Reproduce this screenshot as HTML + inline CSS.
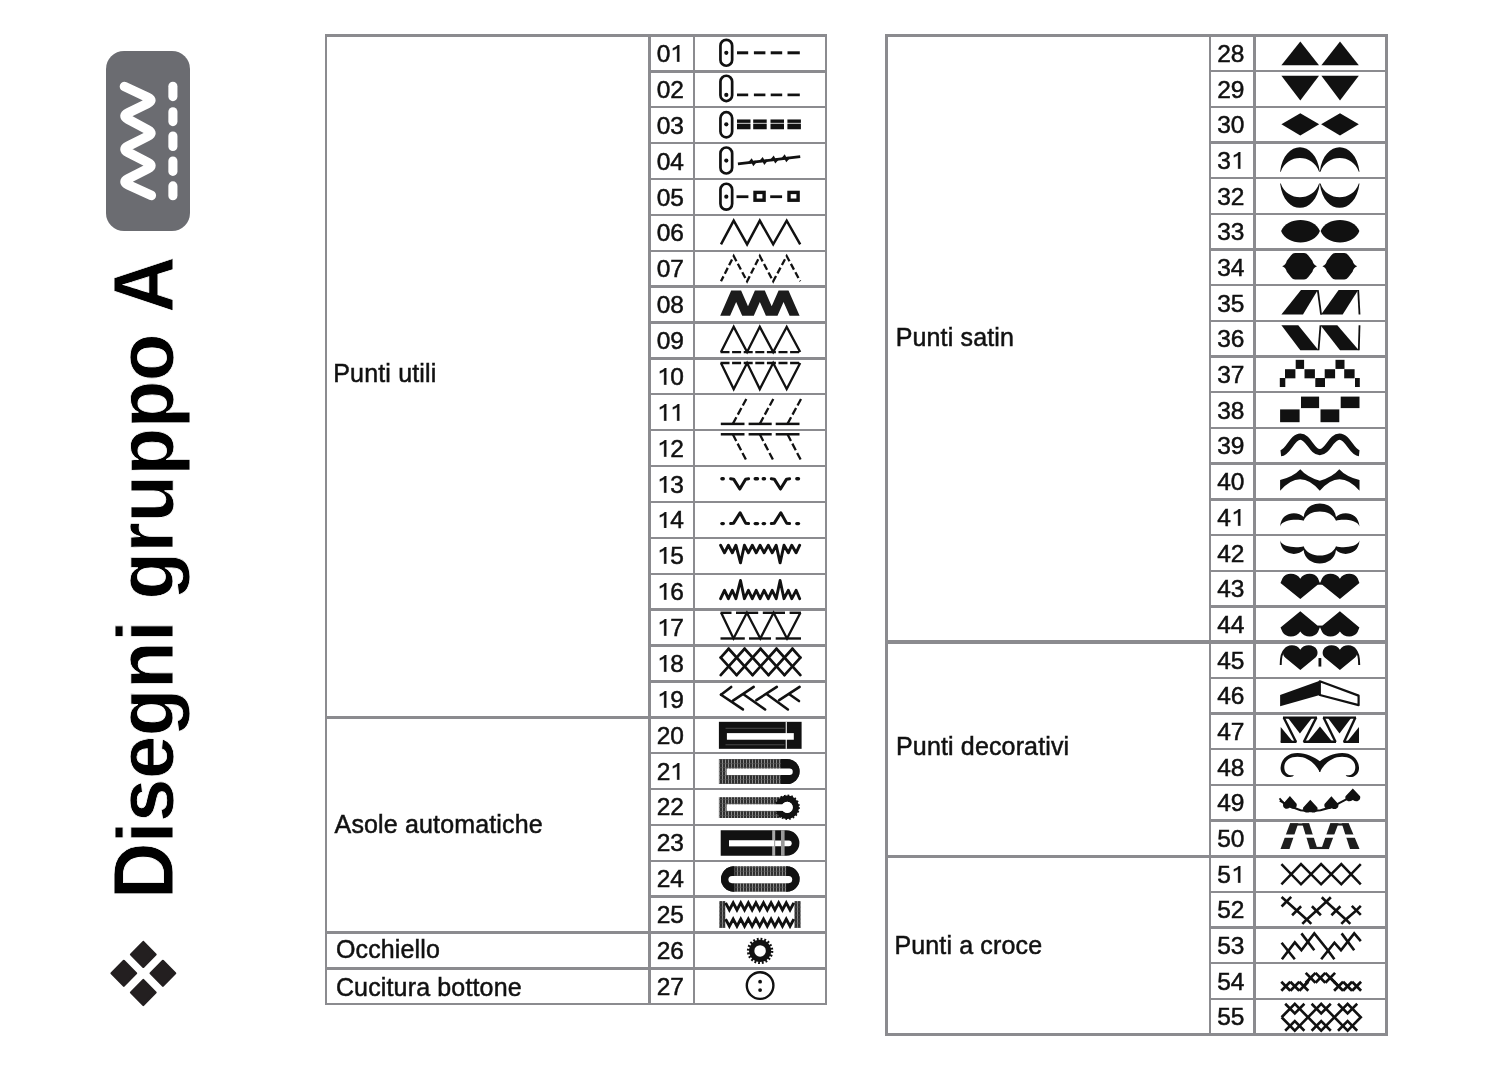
<!DOCTYPE html>
<html><head><meta charset="utf-8"><style>
html,body{margin:0;padding:0;background:#fff;}
body{width:1500px;height:1070px;position:relative;overflow:hidden;font-family:"Liberation Sans",sans-serif;}
.r{position:absolute;}
.one{width:0.5562em;height:0.688em;vertical-align:baseline;fill:#111;stroke:#111;stroke-width:30;}
.t{position:absolute;white-space:nowrap;color:#111;line-height:1;-webkit-text-stroke:0.5px #111;}
#wrap{position:absolute;left:0;top:0;width:1500px;height:1070px;filter:blur(0.45px);}
</style></head><body>
<div id="wrap">
<div style="position:absolute;left:106.4px;top:50.8px;width:84px;height:180.6px;border-radius:18px;background:#6b6c71;"></div><div class="r" style="left:324.80px;top:34.30px;width:2.40px;height:971.16px;background:#8b8b8f"></div><div class="r" style="left:648.30px;top:34.30px;width:2.40px;height:971.16px;background:#8b8b8f"></div><div class="r" style="left:692.80px;top:34.30px;width:2.40px;height:971.16px;background:#8b8b8f"></div><div class="r" style="left:824.80px;top:34.30px;width:2.40px;height:971.16px;background:#8b8b8f"></div><div class="r" style="left:324.80px;top:34.30px;width:502.40px;height:2.40px;background:#8b8b8f"></div><div class="r" style="left:648.30px;top:70.18px;width:178.90px;height:2.40px;background:#8b8b8f"></div><div class="r" style="left:648.30px;top:106.06px;width:178.90px;height:2.40px;background:#8b8b8f"></div><div class="r" style="left:648.30px;top:141.94px;width:178.90px;height:2.40px;background:#8b8b8f"></div><div class="r" style="left:648.30px;top:177.82px;width:178.90px;height:2.40px;background:#8b8b8f"></div><div class="r" style="left:648.30px;top:213.70px;width:178.90px;height:2.40px;background:#8b8b8f"></div><div class="r" style="left:648.30px;top:249.58px;width:178.90px;height:2.40px;background:#8b8b8f"></div><div class="r" style="left:648.30px;top:285.46px;width:178.90px;height:2.40px;background:#8b8b8f"></div><div class="r" style="left:648.30px;top:321.34px;width:178.90px;height:2.40px;background:#8b8b8f"></div><div class="r" style="left:648.30px;top:357.22px;width:178.90px;height:2.40px;background:#8b8b8f"></div><div class="r" style="left:648.30px;top:393.10px;width:178.90px;height:2.40px;background:#8b8b8f"></div><div class="r" style="left:648.30px;top:428.98px;width:178.90px;height:2.40px;background:#8b8b8f"></div><div class="r" style="left:648.30px;top:464.86px;width:178.90px;height:2.40px;background:#8b8b8f"></div><div class="r" style="left:648.30px;top:500.74px;width:178.90px;height:2.40px;background:#8b8b8f"></div><div class="r" style="left:648.30px;top:536.62px;width:178.90px;height:2.40px;background:#8b8b8f"></div><div class="r" style="left:648.30px;top:572.50px;width:178.90px;height:2.40px;background:#8b8b8f"></div><div class="r" style="left:648.30px;top:608.38px;width:178.90px;height:2.40px;background:#8b8b8f"></div><div class="r" style="left:648.30px;top:644.26px;width:178.90px;height:2.40px;background:#8b8b8f"></div><div class="r" style="left:648.30px;top:680.14px;width:178.90px;height:2.40px;background:#8b8b8f"></div><div class="r" style="left:324.80px;top:715.62px;width:502.40px;height:3.20px;background:#8b8b8f"></div><div class="r" style="left:648.30px;top:751.90px;width:178.90px;height:2.40px;background:#8b8b8f"></div><div class="r" style="left:648.30px;top:787.78px;width:178.90px;height:2.40px;background:#8b8b8f"></div><div class="r" style="left:648.30px;top:823.66px;width:178.90px;height:2.40px;background:#8b8b8f"></div><div class="r" style="left:648.30px;top:859.54px;width:178.90px;height:2.40px;background:#8b8b8f"></div><div class="r" style="left:648.30px;top:895.42px;width:178.90px;height:2.40px;background:#8b8b8f"></div><div class="r" style="left:324.80px;top:930.90px;width:502.40px;height:3.20px;background:#8b8b8f"></div><div class="r" style="left:324.80px;top:966.78px;width:502.40px;height:3.20px;background:#8b8b8f"></div><div class="r" style="left:324.80px;top:1003.06px;width:502.40px;height:2.40px;background:#8b8b8f"></div><div class="t" style="left:333.30px;top:360.70px;font-size:25px;letter-spacing:0.15px;">Punti utili</div><div class="t" style="left:334.60px;top:811.80px;font-size:25px;letter-spacing:0.15px;">Asole automatiche</div><div class="t" style="left:335.90px;top:937.30px;font-size:25px;letter-spacing:0.15px;">Occhiello</div><div class="t" style="left:335.90px;top:974.70px;font-size:25px;letter-spacing:0.15px;">Cucitura bottone</div><div class="t" style="left:656.70px;top:42.00px;font-size:24.5px;">0<svg class="one" viewBox="0 -1409 1139 1409"><path d="M595,0 L775,0 L775,-1409 L655,-1409 C600,-1320 430,-1200 240,-1130 L240,-960 C380,-1010 500,-1080 595,-1160 Z"/></svg></div><div class="t" style="left:656.70px;top:77.88px;font-size:24.5px;">02</div><div class="t" style="left:656.70px;top:113.76px;font-size:24.5px;">03</div><div class="t" style="left:656.70px;top:149.64px;font-size:24.5px;">04</div><div class="t" style="left:656.70px;top:185.52px;font-size:24.5px;">05</div><div class="t" style="left:656.70px;top:221.40px;font-size:24.5px;">06</div><div class="t" style="left:656.70px;top:257.28px;font-size:24.5px;">07</div><div class="t" style="left:656.70px;top:293.16px;font-size:24.5px;">08</div><div class="t" style="left:656.70px;top:329.04px;font-size:24.5px;">09</div><div class="t" style="left:656.70px;top:364.92px;font-size:24.5px;"><svg class="one" viewBox="0 -1409 1139 1409"><path d="M595,0 L775,0 L775,-1409 L655,-1409 C600,-1320 430,-1200 240,-1130 L240,-960 C380,-1010 500,-1080 595,-1160 Z"/></svg>0</div><div class="t" style="left:656.70px;top:400.80px;font-size:24.5px;"><svg class="one" viewBox="0 -1409 1139 1409"><path d="M595,0 L775,0 L775,-1409 L655,-1409 C600,-1320 430,-1200 240,-1130 L240,-960 C380,-1010 500,-1080 595,-1160 Z"/></svg><svg class="one" viewBox="0 -1409 1139 1409"><path d="M595,0 L775,0 L775,-1409 L655,-1409 C600,-1320 430,-1200 240,-1130 L240,-960 C380,-1010 500,-1080 595,-1160 Z"/></svg></div><div class="t" style="left:656.70px;top:436.68px;font-size:24.5px;"><svg class="one" viewBox="0 -1409 1139 1409"><path d="M595,0 L775,0 L775,-1409 L655,-1409 C600,-1320 430,-1200 240,-1130 L240,-960 C380,-1010 500,-1080 595,-1160 Z"/></svg>2</div><div class="t" style="left:656.70px;top:472.56px;font-size:24.5px;"><svg class="one" viewBox="0 -1409 1139 1409"><path d="M595,0 L775,0 L775,-1409 L655,-1409 C600,-1320 430,-1200 240,-1130 L240,-960 C380,-1010 500,-1080 595,-1160 Z"/></svg>3</div><div class="t" style="left:656.70px;top:508.44px;font-size:24.5px;"><svg class="one" viewBox="0 -1409 1139 1409"><path d="M595,0 L775,0 L775,-1409 L655,-1409 C600,-1320 430,-1200 240,-1130 L240,-960 C380,-1010 500,-1080 595,-1160 Z"/></svg>4</div><div class="t" style="left:656.70px;top:544.32px;font-size:24.5px;"><svg class="one" viewBox="0 -1409 1139 1409"><path d="M595,0 L775,0 L775,-1409 L655,-1409 C600,-1320 430,-1200 240,-1130 L240,-960 C380,-1010 500,-1080 595,-1160 Z"/></svg>5</div><div class="t" style="left:656.70px;top:580.20px;font-size:24.5px;"><svg class="one" viewBox="0 -1409 1139 1409"><path d="M595,0 L775,0 L775,-1409 L655,-1409 C600,-1320 430,-1200 240,-1130 L240,-960 C380,-1010 500,-1080 595,-1160 Z"/></svg>6</div><div class="t" style="left:656.70px;top:616.08px;font-size:24.5px;"><svg class="one" viewBox="0 -1409 1139 1409"><path d="M595,0 L775,0 L775,-1409 L655,-1409 C600,-1320 430,-1200 240,-1130 L240,-960 C380,-1010 500,-1080 595,-1160 Z"/></svg>7</div><div class="t" style="left:656.70px;top:651.96px;font-size:24.5px;"><svg class="one" viewBox="0 -1409 1139 1409"><path d="M595,0 L775,0 L775,-1409 L655,-1409 C600,-1320 430,-1200 240,-1130 L240,-960 C380,-1010 500,-1080 595,-1160 Z"/></svg>8</div><div class="t" style="left:656.70px;top:687.84px;font-size:24.5px;"><svg class="one" viewBox="0 -1409 1139 1409"><path d="M595,0 L775,0 L775,-1409 L655,-1409 C600,-1320 430,-1200 240,-1130 L240,-960 C380,-1010 500,-1080 595,-1160 Z"/></svg>9</div><div class="t" style="left:656.70px;top:723.72px;font-size:24.5px;">20</div><div class="t" style="left:656.70px;top:759.60px;font-size:24.5px;">2<svg class="one" viewBox="0 -1409 1139 1409"><path d="M595,0 L775,0 L775,-1409 L655,-1409 C600,-1320 430,-1200 240,-1130 L240,-960 C380,-1010 500,-1080 595,-1160 Z"/></svg></div><div class="t" style="left:656.70px;top:795.48px;font-size:24.5px;">22</div><div class="t" style="left:656.70px;top:831.36px;font-size:24.5px;">23</div><div class="t" style="left:656.70px;top:867.24px;font-size:24.5px;">24</div><div class="t" style="left:656.70px;top:903.12px;font-size:24.5px;">25</div><div class="t" style="left:656.70px;top:939.00px;font-size:24.5px;">26</div><div class="t" style="left:656.70px;top:974.88px;font-size:24.5px;">27</div><div class="r" style="left:885.30px;top:34.30px;width:2.40px;height:1001.44px;background:#8b8b8f"></div><div class="r" style="left:1208.80px;top:34.30px;width:2.40px;height:1001.44px;background:#8b8b8f"></div><div class="r" style="left:1253.30px;top:34.30px;width:2.40px;height:1001.44px;background:#8b8b8f"></div><div class="r" style="left:1385.30px;top:34.30px;width:2.40px;height:1001.44px;background:#8b8b8f"></div><div class="r" style="left:885.30px;top:34.30px;width:502.40px;height:2.40px;background:#8b8b8f"></div><div class="r" style="left:1208.80px;top:69.98px;width:178.90px;height:2.40px;background:#8b8b8f"></div><div class="r" style="left:1208.80px;top:105.66px;width:178.90px;height:2.40px;background:#8b8b8f"></div><div class="r" style="left:1208.80px;top:141.34px;width:178.90px;height:2.40px;background:#8b8b8f"></div><div class="r" style="left:1208.80px;top:177.02px;width:178.90px;height:2.40px;background:#8b8b8f"></div><div class="r" style="left:1208.80px;top:212.70px;width:178.90px;height:2.40px;background:#8b8b8f"></div><div class="r" style="left:1208.80px;top:248.38px;width:178.90px;height:2.40px;background:#8b8b8f"></div><div class="r" style="left:1208.80px;top:284.06px;width:178.90px;height:2.40px;background:#8b8b8f"></div><div class="r" style="left:1208.80px;top:319.74px;width:178.90px;height:2.40px;background:#8b8b8f"></div><div class="r" style="left:1208.80px;top:355.42px;width:178.90px;height:2.40px;background:#8b8b8f"></div><div class="r" style="left:1208.80px;top:391.10px;width:178.90px;height:2.40px;background:#8b8b8f"></div><div class="r" style="left:1208.80px;top:426.78px;width:178.90px;height:2.40px;background:#8b8b8f"></div><div class="r" style="left:1208.80px;top:462.46px;width:178.90px;height:2.40px;background:#8b8b8f"></div><div class="r" style="left:1208.80px;top:498.14px;width:178.90px;height:2.40px;background:#8b8b8f"></div><div class="r" style="left:1208.80px;top:533.82px;width:178.90px;height:2.40px;background:#8b8b8f"></div><div class="r" style="left:1208.80px;top:569.50px;width:178.90px;height:2.40px;background:#8b8b8f"></div><div class="r" style="left:1208.80px;top:605.18px;width:178.90px;height:2.40px;background:#8b8b8f"></div><div class="r" style="left:885.30px;top:640.46px;width:502.40px;height:3.20px;background:#8b8b8f"></div><div class="r" style="left:1208.80px;top:676.54px;width:178.90px;height:2.40px;background:#8b8b8f"></div><div class="r" style="left:1208.80px;top:712.22px;width:178.90px;height:2.40px;background:#8b8b8f"></div><div class="r" style="left:1208.80px;top:747.90px;width:178.90px;height:2.40px;background:#8b8b8f"></div><div class="r" style="left:1208.80px;top:783.58px;width:178.90px;height:2.40px;background:#8b8b8f"></div><div class="r" style="left:1208.80px;top:819.26px;width:178.90px;height:2.40px;background:#8b8b8f"></div><div class="r" style="left:885.30px;top:854.54px;width:502.40px;height:3.20px;background:#8b8b8f"></div><div class="r" style="left:1208.80px;top:890.62px;width:178.90px;height:2.40px;background:#8b8b8f"></div><div class="r" style="left:1208.80px;top:926.30px;width:178.90px;height:2.40px;background:#8b8b8f"></div><div class="r" style="left:1208.80px;top:961.98px;width:178.90px;height:2.40px;background:#8b8b8f"></div><div class="r" style="left:1208.80px;top:997.66px;width:178.90px;height:2.40px;background:#8b8b8f"></div><div class="r" style="left:885.30px;top:1033.34px;width:502.40px;height:2.40px;background:#8b8b8f"></div><div class="t" style="left:895.70px;top:324.50px;font-size:25px;letter-spacing:0.15px;">Punti satin</div><div class="t" style="left:896.00px;top:733.70px;font-size:25px;letter-spacing:0.15px;">Punti decorativi</div><div class="t" style="left:894.40px;top:933.10px;font-size:25px;letter-spacing:0.15px;">Punti a croce</div><div class="t" style="left:1217.20px;top:42.00px;font-size:24.5px;">28</div><div class="t" style="left:1217.20px;top:77.68px;font-size:24.5px;">29</div><div class="t" style="left:1217.20px;top:113.36px;font-size:24.5px;">30</div><div class="t" style="left:1217.20px;top:149.04px;font-size:24.5px;">3<svg class="one" viewBox="0 -1409 1139 1409"><path d="M595,0 L775,0 L775,-1409 L655,-1409 C600,-1320 430,-1200 240,-1130 L240,-960 C380,-1010 500,-1080 595,-1160 Z"/></svg></div><div class="t" style="left:1217.20px;top:184.72px;font-size:24.5px;">32</div><div class="t" style="left:1217.20px;top:220.40px;font-size:24.5px;">33</div><div class="t" style="left:1217.20px;top:256.08px;font-size:24.5px;">34</div><div class="t" style="left:1217.20px;top:291.76px;font-size:24.5px;">35</div><div class="t" style="left:1217.20px;top:327.44px;font-size:24.5px;">36</div><div class="t" style="left:1217.20px;top:363.12px;font-size:24.5px;">37</div><div class="t" style="left:1217.20px;top:398.80px;font-size:24.5px;">38</div><div class="t" style="left:1217.20px;top:434.48px;font-size:24.5px;">39</div><div class="t" style="left:1217.20px;top:470.16px;font-size:24.5px;">40</div><div class="t" style="left:1217.20px;top:505.84px;font-size:24.5px;">4<svg class="one" viewBox="0 -1409 1139 1409"><path d="M595,0 L775,0 L775,-1409 L655,-1409 C600,-1320 430,-1200 240,-1130 L240,-960 C380,-1010 500,-1080 595,-1160 Z"/></svg></div><div class="t" style="left:1217.20px;top:541.52px;font-size:24.5px;">42</div><div class="t" style="left:1217.20px;top:577.20px;font-size:24.5px;">43</div><div class="t" style="left:1217.20px;top:612.88px;font-size:24.5px;">44</div><div class="t" style="left:1217.20px;top:648.56px;font-size:24.5px;">45</div><div class="t" style="left:1217.20px;top:684.24px;font-size:24.5px;">46</div><div class="t" style="left:1217.20px;top:719.92px;font-size:24.5px;">47</div><div class="t" style="left:1217.20px;top:755.60px;font-size:24.5px;">48</div><div class="t" style="left:1217.20px;top:791.28px;font-size:24.5px;">49</div><div class="t" style="left:1217.20px;top:826.96px;font-size:24.5px;">50</div><div class="t" style="left:1217.20px;top:862.64px;font-size:24.5px;">5<svg class="one" viewBox="0 -1409 1139 1409"><path d="M595,0 L775,0 L775,-1409 L655,-1409 C600,-1320 430,-1200 240,-1130 L240,-960 C380,-1010 500,-1080 595,-1160 Z"/></svg></div><div class="t" style="left:1217.20px;top:898.32px;font-size:24.5px;">52</div><div class="t" style="left:1217.20px;top:934.00px;font-size:24.5px;">53</div><div class="t" style="left:1217.20px;top:969.68px;font-size:24.5px;">54</div><div class="t" style="left:1217.20px;top:1005.36px;font-size:24.5px;">55</div><div class="t" style="left:104.9px;top:898.8px;font-size:78px;font-weight:700;letter-spacing:-0.5px;color:#000;-webkit-text-stroke:0.8px #fff;transform-origin:0 0;transform:rotate(-90deg) scale(1,1.03);"><span style="display:inline-block;transform-origin:50% 66px;transform:scaleY(1.07)">D</span>isegni gruppo <span style="display:inline-block;transform-origin:50% 66px;transform:scaleY(1.07)">A</span></div>
<svg width="1500" height="1070" style="position:absolute;left:0;top:0">
<defs><pattern id="stripe" width="3" height="4" patternUnits="userSpaceOnUse"><rect width="3" height="4" fill="#2e2e2e"/><rect x="2" width="1" height="4" fill="#8a8a8a"/><rect y="3" width="3" height="0.6" fill="#555"/></pattern></defs>
<path d="M124.5,86.5 L147.66,97.33 Q154,100.3 147.70,103.36 L128.20,112.84 Q121.9,115.9 128.06,119.22 L147.84,129.88 Q154,133.2 147.74,136.32 L128.16,146.08 Q121.9,149.2 128.13,152.38 L147.77,162.42 Q154,165.6 147.77,168.78 L128.13,178.82 Q121.9,182 128.27,184.90 L151.3,195.4" fill="none" stroke="#fff" stroke-width="9.6" stroke-linejoin="round" stroke-linecap="round"/><line x1="172.9" y1="86.2" x2="172.9" y2="96.6" stroke="#fff" stroke-width="9.1" stroke-linecap="round"/><line x1="172.9" y1="111.7" x2="172.9" y2="121.6" stroke="#fff" stroke-width="9.1" stroke-linecap="round"/><line x1="172.9" y1="136.0" x2="172.9" y2="146.5" stroke="#fff" stroke-width="9.1" stroke-linecap="round"/><line x1="172.9" y1="161.0" x2="172.9" y2="171.4" stroke="#fff" stroke-width="9.1" stroke-linecap="round"/><line x1="172.9" y1="185.9" x2="172.9" y2="195.7" stroke="#fff" stroke-width="9.1" stroke-linecap="round"/><polygon points="143.3,941.9 155.60000000000002,954.4 143.3,966.9 131.0,954.4" fill="#231f20" stroke="#231f20" stroke-width="2.2" stroke-linejoin="round"/><polygon points="123.8,960.8 136.1,973.3 123.8,985.8 111.5,973.3" fill="#231f20" stroke="#231f20" stroke-width="2.2" stroke-linejoin="round"/><polygon points="162.9,960.8 175.20000000000002,973.3 162.9,985.8 150.6,973.3" fill="#231f20" stroke="#231f20" stroke-width="2.2" stroke-linejoin="round"/><polygon points="143.3,980.0 155.60000000000002,992.5 143.3,1005.0 131.0,992.5" fill="#231f20" stroke="#231f20" stroke-width="2.2" stroke-linejoin="round"/><g transform="translate(693,34.50)"><rect x="27.45" y="5.35" width="11.70" height="25.90" rx="5.85" fill="none" stroke="#111" stroke-width="2.7"/><circle cx="33.3" cy="18.30" r="2.1" fill="#111"/><line x1="44.00" y1="18.30" x2="55.20" y2="18.30" stroke="#111" stroke-width="3.0" /><line x1="60.90" y1="18.30" x2="72.40" y2="18.30" stroke="#111" stroke-width="3.0" /><line x1="77.70" y1="18.30" x2="89.20" y2="18.30" stroke="#111" stroke-width="3.0" /><line x1="94.50" y1="18.30" x2="106.80" y2="18.30" stroke="#111" stroke-width="3.0" /></g><g transform="translate(693,70.38)"><rect x="27.45" y="5.35" width="11.70" height="25.30" rx="5.85" fill="none" stroke="#111" stroke-width="2.7"/><circle cx="33.3" cy="24.50" r="2.1" fill="#111"/><line x1="44.00" y1="24.50" x2="55.20" y2="24.50" stroke="#111" stroke-width="2.7" /><line x1="60.90" y1="24.50" x2="72.40" y2="24.50" stroke="#111" stroke-width="2.7" /><line x1="77.70" y1="24.50" x2="89.20" y2="24.50" stroke="#111" stroke-width="2.7" /><line x1="94.50" y1="24.50" x2="106.80" y2="24.50" stroke="#111" stroke-width="2.7" /></g><g transform="translate(693,106.26)"><rect x="27.45" y="5.95" width="11.70" height="25.10" rx="5.85" fill="none" stroke="#111" stroke-width="2.7"/><circle cx="33.3" cy="18.10" r="2.1" fill="#111"/><rect x="44.00" y="13.20" width="13.50" height="3.40" fill="#111" /><rect x="44.00" y="17.40" width="13.50" height="5.60" fill="#111" /><rect x="60.20" y="13.20" width="13.50" height="3.40" fill="#111" /><rect x="60.20" y="17.40" width="13.50" height="5.60" fill="#111" /><rect x="77.50" y="13.20" width="13.50" height="3.40" fill="#111" /><rect x="77.50" y="17.40" width="13.50" height="5.60" fill="#111" /><rect x="94.40" y="13.20" width="13.50" height="3.40" fill="#111" /><rect x="94.40" y="17.40" width="13.50" height="5.60" fill="#111" /></g><g transform="translate(693,142.14)"><rect x="27.45" y="5.35" width="11.70" height="26.00" rx="5.85" fill="none" stroke="#111" stroke-width="2.7"/><circle cx="33.3" cy="18.40" r="2.1" fill="#111"/><line x1="44.90" y1="21.80" x2="107.20" y2="14.40" stroke="#111" stroke-width="2.8" /><polyline points="56.10,20.97 58.50,18.17 60.50,21.97 62.90,19.17" fill="none" stroke="#111" stroke-width="2.4" /><polyline points="67.10,19.66 69.50,16.86 71.50,20.66 73.90,17.86" fill="none" stroke="#111" stroke-width="2.4" /><polyline points="78.10,18.35 80.50,15.55 82.50,19.35 84.90,16.55" fill="none" stroke="#111" stroke-width="2.4" /><polyline points="89.10,17.05 91.50,14.25 93.50,18.05 95.90,15.25" fill="none" stroke="#111" stroke-width="2.4" /></g><g transform="translate(693,178.02)"><rect x="27.45" y="5.75" width="11.70" height="25.90" rx="5.85" fill="none" stroke="#111" stroke-width="2.7"/><circle cx="33.3" cy="18.70" r="2.1" fill="#111"/><line x1="43.50" y1="18.70" x2="55.40" y2="18.70" stroke="#111" stroke-width="2.8" /><line x1="77.20" y1="18.70" x2="89.10" y2="18.70" stroke="#111" stroke-width="2.8" /><rect x="62.00" y="14.4" width="9.1" height="7.8" fill="none" stroke="#111" stroke-width="3.4"/><rect x="96.00" y="14.4" width="9.1" height="7.8" fill="none" stroke="#111" stroke-width="3.4"/></g><g transform="translate(693,213.90)"><polyline points="28.00,30.40 40.70,6.80 54.10,30.40 66.80,6.80 80.20,30.40 93.70,6.80 107.20,30.40" fill="none" stroke="#111" stroke-width="2.5" stroke-linejoin="miter"/></g><g transform="translate(693,249.78)"><polyline points="28.00,31.50 40.70,6.30 54.10,31.50 66.80,6.30 80.20,31.50 93.70,6.30 107.20,31.50" fill="none" stroke="#111" stroke-width="2.3" stroke-dasharray="6.5 3" stroke-dashoffset="1"/></g><g transform="translate(693,285.66)"><polygon points="27.20,30.10 38.20,4.90 48.10,4.90 55.00,20.56 61.90,4.90 71.80,4.90 78.70,20.56 85.60,4.90 95.50,4.90 106.60,30.10 96.60,30.10 90.55,16.36 84.50,30.10 72.90,30.10 66.85,16.36 60.80,30.10 49.20,30.10 43.15,16.36 37.10,30.10" fill="#1c1c1c" /></g><g transform="translate(693,321.54)"><polyline points="28.00,30.50 40.70,5.30 54.10,30.50 66.80,5.30 80.20,30.50 93.70,5.30 107.20,30.50" fill="none" stroke="#111" stroke-width="2.3" /><line x1="27.50" y1="30.50" x2="107.70" y2="30.50" stroke="#111" stroke-width="2.3" stroke-dasharray="9 2.6"/></g><g transform="translate(693,357.42)"><polyline points="28.00,5.60 40.70,31.70 54.10,5.60 66.80,31.70 80.20,5.60 93.70,31.70 107.20,5.60" fill="none" stroke="#111" stroke-width="2.3" /><line x1="27.50" y1="5.60" x2="107.70" y2="5.60" stroke="#111" stroke-width="2.3" stroke-dasharray="9 2.6"/></g><g transform="translate(693,393.30)"><line x1="27.80" y1="30.60" x2="51.50" y2="30.60" stroke="#111" stroke-width="2.5" /><line x1="55.60" y1="30.60" x2="78.70" y2="30.60" stroke="#111" stroke-width="2.5" /><line x1="82.70" y1="30.60" x2="106.50" y2="30.60" stroke="#111" stroke-width="2.5" /><line x1="39.80" y1="30.60" x2="53.30" y2="5.70" stroke="#111" stroke-width="2.3" stroke-dasharray="7.5 3"/><line x1="66.80" y1="30.60" x2="80.30" y2="5.70" stroke="#111" stroke-width="2.3" stroke-dasharray="7.5 3"/><line x1="94.50" y1="30.60" x2="108.00" y2="5.70" stroke="#111" stroke-width="2.3" stroke-dasharray="7.5 3"/></g><g transform="translate(693,429.18)"><line x1="27.80" y1="5.10" x2="51.50" y2="5.10" stroke="#111" stroke-width="2.5" /><line x1="55.60" y1="5.10" x2="78.70" y2="5.10" stroke="#111" stroke-width="2.5" /><line x1="82.70" y1="5.10" x2="106.50" y2="5.10" stroke="#111" stroke-width="2.5" /><line x1="39.80" y1="5.10" x2="53.30" y2="31.20" stroke="#111" stroke-width="2.3" stroke-dasharray="7.5 3"/><line x1="66.80" y1="5.10" x2="80.30" y2="31.20" stroke="#111" stroke-width="2.3" stroke-dasharray="7.5 3"/><line x1="94.50" y1="5.10" x2="108.00" y2="31.20" stroke="#111" stroke-width="2.3" stroke-dasharray="7.5 3"/></g><g transform="translate(693,465.06)"><line x1="28.90" y1="13.70" x2="30.30" y2="13.70" stroke="#111" stroke-width="3.3" stroke-linecap="round"/><line x1="62.20" y1="13.70" x2="64.50" y2="13.70" stroke="#111" stroke-width="3.3" stroke-linecap="round"/><line x1="70.20" y1="13.70" x2="71.50" y2="13.70" stroke="#111" stroke-width="3.3" stroke-linecap="round"/><line x1="103.80" y1="13.70" x2="105.50" y2="13.70" stroke="#111" stroke-width="3.3" stroke-linecap="round"/><polyline points="37.60,13.70 40.60,14.10 46.80,24.00 52.60,14.10 55.60,13.70" fill="none" stroke="#111" stroke-width="3.0" stroke-linecap="round" stroke-linejoin="round"/><polyline points="78.30,13.70 81.30,14.10 87.50,24.00 93.60,14.10 96.60,13.70" fill="none" stroke="#111" stroke-width="3.0" stroke-linecap="round" stroke-linejoin="round"/></g><g transform="translate(693,500.94)"><line x1="28.90" y1="22.60" x2="30.30" y2="22.60" stroke="#111" stroke-width="3.3" stroke-linecap="round"/><line x1="62.20" y1="22.60" x2="64.50" y2="22.60" stroke="#111" stroke-width="3.3" stroke-linecap="round"/><line x1="70.20" y1="22.60" x2="71.50" y2="22.60" stroke="#111" stroke-width="3.3" stroke-linecap="round"/><line x1="103.80" y1="22.60" x2="105.50" y2="22.60" stroke="#111" stroke-width="3.3" stroke-linecap="round"/><polyline points="37.60,22.60 40.60,22.20 47.10,11.80 52.60,22.20 55.60,22.60" fill="none" stroke="#111" stroke-width="3.0" stroke-linecap="round" stroke-linejoin="round"/><polyline points="78.30,22.60 81.30,22.20 87.80,11.80 93.60,22.20 96.60,22.60" fill="none" stroke="#111" stroke-width="3.0" stroke-linecap="round" stroke-linejoin="round"/></g><g transform="translate(693,536.82)"><polyline points="27.60,8.40 31.50,16.00 35.40,8.40 39.30,16.00 42.90,8.40 47.50,26.00 51.40,8.40 55.40,16.00 59.30,8.40 63.20,16.00 67.10,8.40 71.10,16.00 75.30,8.40 79.20,16.00 83.20,8.40 87.10,26.00 91.00,8.40 95.30,16.00 98.80,8.40 103.10,16.00 106.70,8.40" fill="none" stroke="#111" stroke-width="2.9" stroke-linejoin="round" stroke-linecap="round"/></g><g transform="translate(693,572.70)"><polyline points="27.60,26.00 31.50,17.60 35.40,26.00 39.30,17.60 42.90,26.00 47.50,7.80 51.40,26.00 55.40,17.60 59.30,26.00 63.20,17.60 67.10,26.00 71.10,17.60 75.30,26.00 79.20,17.60 83.20,26.00 87.10,7.80 91.00,26.00 95.30,17.60 98.80,26.00 103.10,17.60 106.70,26.00" fill="none" stroke="#111" stroke-width="2.9" stroke-linejoin="round" stroke-linecap="round"/></g><g transform="translate(693,608.58)"><polyline points="28.20,4.20 40.50,29.90 53.90,4.20 67.30,29.90 80.60,4.20 94.00,29.90 107.40,4.20" fill="none" stroke="#111" stroke-width="2.3" /><line x1="27.50" y1="4.20" x2="38.50" y2="4.20" stroke="#111" stroke-width="2.4" /><line x1="43.00" y1="4.20" x2="65.20" y2="4.20" stroke="#111" stroke-width="2.4" /><line x1="69.80" y1="4.20" x2="92.00" y2="4.20" stroke="#111" stroke-width="2.4" /><line x1="96.60" y1="4.20" x2="108.00" y2="4.20" stroke="#111" stroke-width="2.4" /><line x1="27.50" y1="29.90" x2="51.80" y2="29.90" stroke="#111" stroke-width="2.4" /><line x1="56.00" y1="29.90" x2="78.00" y2="29.90" stroke="#111" stroke-width="2.4" /><line x1="82.70" y1="29.90" x2="108.00" y2="29.90" stroke="#111" stroke-width="2.4" /></g><g transform="translate(693,644.46)"><line x1="27.70" y1="13.10" x2="35.67" y2="4.30" stroke="#111" stroke-width="2.7" stroke-linecap="round"/><line x1="27.70" y1="13.10" x2="43.64" y2="30.60" stroke="#111" stroke-width="2.7" stroke-linecap="round"/><line x1="35.67" y1="4.30" x2="59.58" y2="30.60" stroke="#111" stroke-width="2.7" stroke-linecap="round"/><line x1="51.61" y1="4.30" x2="75.52" y2="30.60" stroke="#111" stroke-width="2.7" stroke-linecap="round"/><line x1="67.55" y1="4.30" x2="91.46" y2="30.60" stroke="#111" stroke-width="2.7" stroke-linecap="round"/><line x1="83.49" y1="4.30" x2="107.40" y2="30.60" stroke="#111" stroke-width="2.7" stroke-linecap="round"/><line x1="99.43" y1="4.30" x2="107.40" y2="13.10" stroke="#111" stroke-width="2.7" stroke-linecap="round"/><line x1="27.70" y1="30.60" x2="51.61" y2="4.30" stroke="#111" stroke-width="2.7" stroke-linecap="round"/><line x1="43.64" y1="30.60" x2="67.55" y2="4.30" stroke="#111" stroke-width="2.7" stroke-linecap="round"/><line x1="59.58" y1="30.60" x2="83.49" y2="4.30" stroke="#111" stroke-width="2.7" stroke-linecap="round"/><line x1="75.52" y1="30.60" x2="99.43" y2="4.30" stroke="#111" stroke-width="2.7" stroke-linecap="round"/><line x1="91.46" y1="30.60" x2="107.40" y2="13.10" stroke="#111" stroke-width="2.7" stroke-linecap="round"/></g><g transform="translate(693,680.34)"><line x1="28.00" y1="14.40" x2="38.20" y2="6.60" stroke="#111" stroke-width="2.6" stroke-linecap="round"/><line x1="40.00" y1="20.30" x2="60.70" y2="6.60" stroke="#111" stroke-width="2.6" stroke-linecap="round"/><line x1="63.40" y1="19.80" x2="83.80" y2="6.60" stroke="#111" stroke-width="2.6" stroke-linecap="round"/><line x1="86.20" y1="19.80" x2="106.60" y2="6.60" stroke="#111" stroke-width="2.6" stroke-linecap="round"/><line x1="28.00" y1="14.40" x2="49.90" y2="29.10" stroke="#111" stroke-width="2.6" stroke-linecap="round"/><line x1="50.80" y1="14.10" x2="72.10" y2="29.10" stroke="#111" stroke-width="2.6" stroke-linecap="round"/><line x1="74.20" y1="14.10" x2="94.90" y2="29.10" stroke="#111" stroke-width="2.6" stroke-linecap="round"/><line x1="96.70" y1="14.10" x2="106.00" y2="20.70" stroke="#111" stroke-width="2.6" stroke-linecap="round"/></g><g transform="translate(693,716.22)"><rect x="25.90" y="5.60" width="82.70" height="27.00" fill="#111" /><rect x="33.90" y="16.90" width="66.90" height="6.60" fill="#fff" /><rect x="92.70" y="5.60" width="1.10" height="27.00" fill="#fff" /><rect x="32.50" y="11.60" width="59.00" height="0.80" fill="#555" /><rect x="32.50" y="28.20" width="59.00" height="0.80" fill="#555" /></g><g transform="translate(693,752.10)"><path d="M25.9,6.8 H94 A12.6,12.6 0 0 1 94,32 H25.9 Z" fill="url(#stripe)" /><path d="M88,6.8 H94 A12.6,12.6 0 0 1 94,32 H88 Z" fill="#111" /><path d="M33.6,16.4 H96.5 A3.25,3.25 0 0 1 96.5,22.9 H33.6 Z" fill="#fff" /></g><g transform="translate(693,787.98)"><rect x="25.90" y="9.20" width="62.00" height="20.80" fill="url(#stripe)" /><circle cx="94.2" cy="19.3" r="8.6" fill="none" stroke="#111" stroke-width="6.2"/><circle cx="94.2" cy="19.3" r="11.6" fill="none" stroke="#111" stroke-width="2.2" stroke-dasharray="1.6 2.05"/><rect x="33.60" y="16.30" width="58.00" height="6.60" fill="#fff" /><circle cx="94.2" cy="19.4" r="5.6" fill="#fff"/></g><g transform="translate(693,823.86)"><path d="M27.7,6.3 H93.55 A12.85,12.85 0 0 1 93.55,32 H27.7 Z" fill="#111" /><path d="M36,16.6 H95.85 A2.85,2.85 0 0 1 95.85,22.3 H36 Z" fill="#fff" /><rect x="79.20" y="6.30" width="3.00" height="25.70" fill="#aaa" /><rect x="88.00" y="6.30" width="3.60" height="25.70" fill="#999" /><rect x="36.00" y="16.60" width="45.00" height="5.70" fill="#fff" /></g><g transform="translate(693,859.74)"><path d="M40.85,6.4 H93.75 A12.85,12.85 0 0 1 93.75,32.1 H40.85 A12.85,12.85 0 0 1 40.85,6.4 Z" fill="url(#stripe)" /><path d="M40.85,6.4 H41.5 V32.1 H40.85 A12.85,12.85 0 0 1 40.85,6.4 Z" fill="#111" /><path d="M93.2,6.4 H93.75 A12.85,12.85 0 0 1 93.75,32.1 H93.2 Z" fill="#111" /><path d="M39,16.2 H95.6 A3.6,3.6 0 0 1 95.6,23.4 H39 A3.6,3.6 0 0 1 39,16.2 Z" fill="#fff" /></g><g transform="translate(693,895.62)"><rect x="26.00" y="5.50" width="6.40" height="26.80" fill="url(#stripe)" /><rect x="101.20" y="5.50" width="6.70" height="26.80" fill="url(#stripe)" /><polyline points="32.60,7.30 36.39,14.30 40.18,7.30 43.97,14.30 47.76,7.30 51.55,14.30 55.34,7.30 59.13,14.30 62.92,7.30 66.71,14.30 70.50,7.30 74.29,14.30 78.08,7.30 81.87,14.30 85.66,7.30 89.45,14.30 93.24,7.30 97.03,14.30 100.82,7.30" fill="none" stroke="#111" stroke-width="2.9" /><polyline points="32.60,23.50 36.39,30.60 40.18,23.50 43.97,30.60 47.76,23.50 51.55,30.60 55.34,23.50 59.13,30.60 62.92,23.50 66.71,30.60 70.50,23.50 74.29,30.60 78.08,23.50 81.87,30.60 85.66,23.50 89.45,30.60 93.24,23.50 97.03,30.60 100.82,23.50" fill="none" stroke="#111" stroke-width="2.9" /></g><g transform="translate(693,931.50)"><circle cx="67.1" cy="19.4" r="8.4" fill="none" stroke="#111" stroke-width="5.3"/><circle cx="67.1" cy="19.4" r="11.6" fill="none" stroke="#111" stroke-width="3.2" stroke-dasharray="1.8 1.85"/></g><g transform="translate(693,967.38)"><circle cx="67.1" cy="18.2" r="13.3" fill="none" stroke="#111" stroke-width="2.4"/><circle cx="67.1" cy="14.3" r="1.9" fill="#111"/><circle cx="67.1" cy="22.7" r="1.9" fill="#111"/></g><g transform="translate(1253.5,34.50)"><polygon points="27.90,30.80 46.80,6.90 65.50,30.80" fill="#111" /><polygon points="67.90,30.80 86.50,6.90 105.30,30.80" fill="#111" /></g><g transform="translate(1253.5,70.18)"><polygon points="27.90,5.50 46.80,30.40 65.50,5.50" fill="#111" /><polygon points="67.90,5.50 86.50,30.40 105.30,5.50" fill="#111" /></g><g transform="translate(1253.5,105.86)"><polygon points="27.90,18.30 46.80,7.50 65.70,18.30 46.80,29.70" fill="#111" /><polygon points="67.60,18.30 86.50,7.50 105.30,18.30 86.50,29.70" fill="#111" /></g><g transform="translate(1253.5,141.54)"><path d="M26.6,30.2 C30.6,-2.6 62.3,-2.6 66.3,30.2 L65.6,30.2 C59.5,11.8 33.4,11.8 27.3,30.2 Z" fill="#111" /><path d="M66.30000000000001,30.2 C70.30000000000001,-2.6 102.0,-2.6 106.0,30.2 L105.3,30.2 C99.2,11.8 73.1,11.8 67.0,30.2 Z" fill="#111" /></g><g transform="translate(1253.5,177.22)"><path d="M26.6,6.2 C30.6,38.8 62.3,38.8 66.3,6.2 L65.6,6.2 C59.5,24.6 33.4,24.6 27.3,6.2 Z" fill="#111" /><path d="M66.30000000000001,6.2 C70.30000000000001,38.8 102.0,38.8 106.0,6.2 L105.3,6.2 C99.2,24.6 73.1,24.6 67.0,6.2 Z" fill="#111" /></g><g transform="translate(1253.5,212.90)"><path d="M27.6,18.2 C33.5,3.4 60.5,3.4 66.4,18.2 C60.5,33.4 33.5,33.4 27.6,18.2 Z" fill="#111" /><path d="M67.1,18.2 C73.0,3.4 100.0,3.4 105.9,18.2 C100.0,33.4 73.0,33.4 67.1,18.2 Z" fill="#111" /></g><g transform="translate(1253.5,248.58)"><path d="M28.700000000000003,17.7 C31.6,16.7 32.6,14.7 33.3,12.2 L37.6,6.699999999999999 Q39.300000000000004,4.399999999999999 41.6,4.399999999999999 L50.6,4.399999999999999 Q52.9,4.399999999999999 54.6,6.699999999999999 L58.900000000000006,12.2 C59.6,14.7 60.6,16.7 63.5,17.7 C60.6,18.7 59.6,20.7 58.900000000000006,23.2 L54.6,28.7 Q52.9,31.0 50.6,31.0 L41.6,31.0 Q39.300000000000004,31.0 37.6,28.7 L33.3,23.2 C32.6,20.7 31.6,18.7 28.700000000000003,17.7 Z" fill="#111" /><path d="M68.9,17.7 C71.8,16.7 72.8,14.7 73.5,12.2 L77.8,6.699999999999999 Q79.5,4.399999999999999 81.8,4.399999999999999 L90.8,4.399999999999999 Q93.1,4.399999999999999 94.8,6.699999999999999 L99.1,12.2 C99.8,14.7 100.8,16.7 103.69999999999999,17.7 C100.8,18.7 99.8,20.7 99.1,23.2 L94.8,28.7 Q93.1,31.0 90.8,31.0 L81.8,31.0 Q79.5,31.0 77.8,28.7 L73.5,23.2 C72.8,20.7 71.8,18.7 68.9,17.7 Z" fill="#111" /></g><g transform="translate(1253.5,284.26)"><polygon points="27.90,30.30 49.50,30.30 64.30,5.80 47.50,5.80" fill="#111" /><line x1="64.30" y1="5.80" x2="67.60" y2="30.30" stroke="#111" stroke-width="1.8" /><polygon points="67.60,30.30 89.20,30.30 104.70,5.80 85.10,5.80" fill="#111" /><line x1="104.70" y1="5.80" x2="106.00" y2="30.30" stroke="#111" stroke-width="1.8" /></g><g transform="translate(1253.5,319.94)"><polygon points="27.90,5.40 44.80,5.40 65.00,30.30 46.80,30.30" fill="#111" /><line x1="65.00" y1="30.30" x2="67.00" y2="5.40" stroke="#111" stroke-width="1.8" /><polygon points="67.00,5.40 83.80,5.40 105.30,30.30 86.50,30.30" fill="#111" /><line x1="105.30" y1="30.30" x2="106.00" y2="5.40" stroke="#111" stroke-width="1.8" /></g><g transform="translate(1253.5,355.62)"><rect x="26.30" y="22.40" width="5.50" height="9.00" fill="#111" /><rect x="31.50" y="13.60" width="10.40" height="9.10" fill="#111" /><rect x="42.20" y="4.20" width="8.40" height="9.10" fill="#111" /><rect x="51.00" y="13.60" width="10.40" height="9.10" fill="#111" /><rect x="61.80" y="22.40" width="9.70" height="9.00" fill="#111" /><rect x="71.20" y="13.60" width="10.40" height="9.10" fill="#111" /><rect x="82.00" y="4.20" width="9.00" height="9.10" fill="#111" /><rect x="90.70" y="13.60" width="10.40" height="9.10" fill="#111" /><rect x="101.50" y="22.40" width="4.80" height="9.00" fill="#111" /></g><g transform="translate(1253.5,391.30)"><rect x="26.60" y="18.10" width="19.50" height="12.80" fill="#111" /><rect x="47.50" y="5.30" width="18.10" height="11.50" fill="#111" /><rect x="67.00" y="18.10" width="18.80" height="12.80" fill="#111" /><rect x="87.20" y="5.30" width="18.80" height="11.50" fill="#111" /></g><g transform="translate(1253.5,426.98)"><path d="M27.3,26.3 C35,25.5 38.5,9.6 46.8,9.6 C55.1,9.6 58.3,25.2 66.3,25.2 C74.3,25.2 77.5,9.6 86,9.6 C94.5,9.6 98,25.5 105.7,26.3" fill="none" stroke="#111" stroke-width="6.2"/></g><g transform="translate(1253.5,462.66)"><path d="M26.6,17.4 Q40,14 46.8,6.6 Q53,14 66.3,18.2 Q79.5,14 85.8,6.6 Q92.5,14 106,17.4 L106,28.2 Q86,5 66.3,28.2 Q46.8,5 26.6,28.2 Z" fill="#111" /></g><g transform="translate(1253.5,498.34)"><path d="M26.6,28.1 C27.6,12.5 45,12.5 50.1,18.7 C52,0.7 80.6,0.7 82.5,18.7 C87.6,12.5 105,12.5 106,28.1 C104,21 88,20.5 82.5,22.5 C78,10 54.6,10 50.1,22.5 C44.6,20.5 28.6,21 26.6,28.1 Z" fill="#111" /></g><g transform="translate(1253.5,534.02)"><g transform="translate(0,34.7) scale(1,-1)"><path d="M26.6,28.1 C27.6,12.5 45,12.5 50.1,18.7 C52,0.7 80.6,0.7 82.5,18.7 C87.6,12.5 105,12.5 106,28.1 C104,21 88,20.5 82.5,22.5 C78,10 54.6,10 50.1,22.5 C44.6,20.5 28.6,21 26.6,28.1 Z" fill="#111" /></g></g><g transform="translate(1253.5,569.70)"><path d="M46.8,9 C50,3 61,2 64.5,8.5 L66.3,13.2 L46.8,29.4 L27,13.2 L29,8.5 C32.5,2 43.5,3 46.8,9 Z" fill="#111" /><path d="M86.4,9 C89.6,3 100.6,2 104.1,8.5 L105.9,13.2 L86.4,29.4 L66.6,13.2 L68.6,8.5 C72.1,2 83.1,3 86.4,9 Z" fill="#111" /><line x1="64.00" y1="14.00" x2="69.00" y2="14.00" stroke="#111" stroke-width="2" /></g><g transform="translate(1253.5,605.38)"><g transform="translate(0,35.2) scale(1,-1)"><path d="M46.8,9 C50,3 61,2 64.5,8.5 L66.3,13.2 L46.8,29.4 L27,13.2 L29,8.5 C32.5,2 43.5,3 46.8,9 Z" fill="#111" /><path d="M86.4,9 C89.6,3 100.6,2 104.1,8.5 L105.9,13.2 L86.4,29.4 L66.6,13.2 L68.6,8.5 C72.1,2 83.1,3 86.4,9 Z" fill="#111" /><line x1="64.00" y1="14.00" x2="69.00" y2="14.00" stroke="#111" stroke-width="2" /></g></g><g transform="translate(1253.5,641.06)"><path d="M46.8,8.6 C50,3 60.5,2.6 63.5,9 C65,13 63,15.5 62,16.5 L46.8,29 L31.6,16.5 C30.6,15.5 28.6,13 30.1,9 C33.1,2.6 43.6,3 46.8,8.6 Z" fill="#111" /><path d="M86.4,8.6 C89.6,3 100.1,2.6 103.1,9 C104.6,13 102.6,15.5 101.6,16.5 L86.4,29 L71.2,16.5 C70.2,15.5 68.2,13 69.7,9 C72.7,2.6 83.2,3 86.4,8.6 Z" fill="#111" /><path d="M27.2,24 C27.2,16 28.5,11 31.5,8.5" fill="none" stroke="#111" stroke-width="2"/><path d="M105.7,24 C105.7,16 104.5,11 101.5,8.5" fill="none" stroke="#111" stroke-width="2"/><rect x="65.00" y="17.00" width="2.80" height="8.50" fill="#111" /></g><g transform="translate(1253.5,676.74)"><polygon points="26.60,18.20 66.30,4.10 66.30,18.20 26.60,29.60" fill="#111" /><polygon points="66.3,4.6 105.1,18.9 105.1,28.4 66.3,18.2" fill="none" stroke="#111" stroke-width="2.2" stroke-linejoin="round"/></g><g transform="translate(1253.5,712.42)"><polyline points="30.20,5.00 42.50,29.60" fill="none" stroke="#111" stroke-width="2.4" /><polyline points="62.90,5.00 50.30,29.60" fill="none" stroke="#111" stroke-width="2.4" /><polyline points="70.10,5.00 82.10,29.60" fill="none" stroke="#111" stroke-width="2.4" /><polyline points="101.90,5.00 90.50,29.60" fill="none" stroke="#111" stroke-width="2.4" /><line x1="29.50" y1="5.20" x2="63.50" y2="5.20" stroke="#111" stroke-width="2.4" /><line x1="69.50" y1="5.20" x2="102.50" y2="5.20" stroke="#111" stroke-width="2.4" /><polygon points="34.50,5.50 58.50,5.50 46.40,21.20" fill="#111" /><polygon points="74.40,5.50 97.60,5.50 86.00,21.20" fill="#111" /><polygon points="27.20,14.60 27.20,29.80 39.80,29.80" fill="#111" /><polygon points="66.50,14.00 53.50,29.80 79.20,29.80" fill="#111" /><polygon points="105.50,14.60 105.50,29.80 93.20,29.80" fill="#111" /><line x1="27.20" y1="29.40" x2="43.00" y2="29.40" stroke="#111" stroke-width="2.4" /><line x1="50.00" y1="29.40" x2="82.50" y2="29.40" stroke="#111" stroke-width="2.4" /><line x1="90.00" y1="29.40" x2="105.50" y2="29.40" stroke="#111" stroke-width="2.4" /></g><g transform="translate(1253.5,748.10)"><path d="M40.2,27.6 C33.5,31.8 26,26 27.2,18.6 C28.3,10 35,5.0 44,5.0 C53,5.0 60,9 66.3,13.1 L66.9,13.1 L66.9,23.8 L66.3,23.8 C61,14 53,8.6 44,8.6 C37,8.6 31,12 30.8,18.6 C30.6,24.6 34.5,27.8 40.2,27.2 Z" fill="#111" /><g transform="translate(132.6,0) scale(-1,1)"><path d="M40.2,27.6 C33.5,31.8 26,26 27.2,18.6 C28.3,10 35,5.0 44,5.0 C53,5.0 60,9 66.3,13.1 L66.9,13.1 L66.9,23.8 L66.3,23.8 C61,14 53,8.6 44,8.6 C37,8.6 31,12 30.8,18.6 C30.6,24.6 34.5,27.8 40.2,27.2 Z" fill="#111" /></g></g><g transform="translate(1253.5,783.78)"><polyline points="26.30,16.80 36.40,22.50 47.00,26.50 56.80,27.50 67.00,26.50 77.90,23.50 88.00,18.00 98.60,12.50" fill="none" stroke="#111" stroke-width="2.0" /><path d="M36.4,12.2 L43.1,20.009999999999998 C44.1,23.56 40.75,26.9 36.4,23.843999999999998 C32.05,26.9 28.7,23.56 29.7,20.009999999999998 Z" fill="#111" /><path d="M56.8,16.0 L63.9,23.810000000000002 C64.9,27.36 61.349999999999994,30.7 56.8,27.644 C52.25,30.7 48.699999999999996,27.36 49.699999999999996,23.810000000000002 Z" fill="#111" /><path d="M77.9,12.5 L84.80000000000001,20.310000000000002 C85.80000000000001,23.86 82.35000000000001,27.2 77.9,24.144 C73.45,27.2 70.0,23.86 71.0,20.310000000000002 Z" fill="#111" /><path d="M99.3,4.6 L106.6,12.41 C107.6,15.959999999999999 103.95,19.299999999999997 99.3,16.244 C94.64999999999999,19.299999999999997 91.0,15.959999999999999 92.0,12.41 Z" fill="#111" /><line x1="26.00" y1="14.50" x2="31.00" y2="20.00" stroke="#111" stroke-width="1.8" /></g><g transform="translate(1253.5,819.46)"><polygon points="27.00,29.60 36.00,29.60 44.80,3.90 36.60,3.90" fill="#1e1e1e" /><polygon points="48.60,3.90 55.60,3.90 64.00,29.60 56.40,29.60" fill="#1e1e1e" /><polygon points="67.80,29.60 75.40,29.60 85.00,3.90 76.80,3.90" fill="#1e1e1e" /><polygon points="88.20,3.90 95.20,3.90 106.00,29.60 96.50,29.60" fill="#1e1e1e" /><rect x="36.60" y="3.90" width="19.00" height="2.20" fill="#1e1e1e" /><rect x="56.40" y="27.40" width="19.00" height="2.20" fill="#1e1e1e" /><rect x="76.80" y="3.90" width="18.40" height="2.20" fill="#1e1e1e" /><rect x="26.00" y="15.00" width="82.00" height="3.30" fill="#fff" /></g><g transform="translate(1253.5,855.14)"><polyline points="27.90,9.00 47.50,29.20 67.60,9.00 87.80,29.20 107.30,9.00" fill="none" stroke="#111" stroke-width="2.5" /><polyline points="27.90,29.20 47.50,9.00 67.60,29.20 87.80,9.00 107.30,29.20" fill="none" stroke="#111" stroke-width="2.5" /></g><g transform="translate(1253.5,890.82)"><polyline points="28.10,6.10 53.30,28.60 72.80,10.90 92.30,28.60 102.80,19.60" fill="none" stroke="#111" stroke-width="2.6" /><line x1="28.10" y1="15.70" x2="37.70" y2="6.10" stroke="#111" stroke-width="2.6" /><line x1="38.60" y1="24.40" x2="47.60" y2="15.40" stroke="#111" stroke-width="2.6" /><line x1="53.30" y1="28.60" x2="57.80" y2="33.10" stroke="#111" stroke-width="2.6" /><line x1="53.30" y1="28.60" x2="48.80" y2="33.10" stroke="#111" stroke-width="2.6" /><line x1="58.40" y1="15.40" x2="67.40" y2="24.40" stroke="#111" stroke-width="2.6" /><line x1="72.80" y1="10.90" x2="68.30" y2="6.40" stroke="#111" stroke-width="2.6" /><line x1="72.80" y1="10.90" x2="77.30" y2="6.40" stroke="#111" stroke-width="2.6" /><line x1="77.90" y1="24.40" x2="86.90" y2="15.40" stroke="#111" stroke-width="2.6" /><line x1="92.30" y1="28.60" x2="87.80" y2="33.10" stroke="#111" stroke-width="2.6" /><line x1="92.30" y1="28.60" x2="96.80" y2="33.10" stroke="#111" stroke-width="2.6" /><line x1="102.80" y1="19.60" x2="107.30" y2="15.10" stroke="#111" stroke-width="2.6" /><line x1="98.30" y1="15.10" x2="107.30" y2="24.10" stroke="#111" stroke-width="2.6" /></g><g transform="translate(1253.5,926.50)"><line x1="28.10" y1="16.20" x2="41.30" y2="32.70" stroke="#111" stroke-width="2.6" /><polyline points="28.40,32.70 41.30,15.90 47.90,23.70 60.80,6.90 74.30,23.70 80.90,32.70" fill="none" stroke="#111" stroke-width="2.6" /><line x1="47.90" y1="6.90" x2="60.80" y2="23.70" stroke="#111" stroke-width="2.6" /><polyline points="67.70,32.70 80.90,16.20 87.50,23.70 100.70,6.90 107.30,14.70" fill="none" stroke="#111" stroke-width="2.6" /><line x1="88.10" y1="6.90" x2="100.70" y2="23.70" stroke="#111" stroke-width="2.6" /></g><g transform="translate(1253.5,962.18)"><line x1="27.80" y1="19.50" x2="36.80" y2="28.50" stroke="#111" stroke-width="2.7" /><line x1="27.80" y1="28.50" x2="36.80" y2="19.50" stroke="#111" stroke-width="2.7" /><line x1="36.80" y1="19.50" x2="45.80" y2="28.50" stroke="#111" stroke-width="2.7" /><line x1="36.80" y1="28.50" x2="45.80" y2="19.50" stroke="#111" stroke-width="2.7" /><line x1="45.80" y1="19.50" x2="54.80" y2="28.50" stroke="#111" stroke-width="2.7" /><line x1="45.80" y1="28.50" x2="54.80" y2="19.50" stroke="#111" stroke-width="2.7" /><line x1="50.30" y1="24.00" x2="57.10" y2="15.60" stroke="#111" stroke-width="2.7" /><line x1="52.20" y1="10.70" x2="62.00" y2="20.50" stroke="#111" stroke-width="2.7" /><line x1="52.20" y1="20.50" x2="62.00" y2="10.70" stroke="#111" stroke-width="2.7" /><line x1="62.00" y1="10.70" x2="71.80" y2="20.50" stroke="#111" stroke-width="2.7" /><line x1="62.00" y1="20.50" x2="71.80" y2="10.70" stroke="#111" stroke-width="2.7" /><line x1="71.80" y1="10.70" x2="81.60" y2="20.50" stroke="#111" stroke-width="2.7" /><line x1="71.80" y1="20.50" x2="81.60" y2="10.70" stroke="#111" stroke-width="2.7" /><line x1="76.70" y1="15.60" x2="85.10" y2="24.00" stroke="#111" stroke-width="2.7" /><line x1="80.60" y1="19.50" x2="89.60" y2="28.50" stroke="#111" stroke-width="2.7" /><line x1="80.60" y1="28.50" x2="89.60" y2="19.50" stroke="#111" stroke-width="2.7" /><line x1="89.60" y1="19.50" x2="98.60" y2="28.50" stroke="#111" stroke-width="2.7" /><line x1="89.60" y1="28.50" x2="98.60" y2="19.50" stroke="#111" stroke-width="2.7" /><line x1="98.60" y1="19.50" x2="107.60" y2="28.50" stroke="#111" stroke-width="2.7" /><line x1="98.60" y1="28.50" x2="107.60" y2="19.50" stroke="#111" stroke-width="2.7" /></g><g transform="translate(1253.5,997.86)"><polyline points="28.10,19.40 41.30,5.90 67.70,32.90 94.10,5.90 107.30,19.40 94.10,32.90 67.70,5.90 41.30,32.90 28.10,19.40" fill="none" stroke="#111" stroke-width="2.6" stroke-linejoin="miter"/><polyline points="31.70,5.90 41.30,15.50 50.90,5.90" fill="none" stroke="#111" stroke-width="2.6" /><polyline points="31.70,32.90 41.30,23.30 50.90,32.90" fill="none" stroke="#111" stroke-width="2.6" /><polyline points="58.10,5.90 67.70,15.50 77.30,5.90" fill="none" stroke="#111" stroke-width="2.6" /><polyline points="58.10,32.90 67.70,23.30 77.30,32.90" fill="none" stroke="#111" stroke-width="2.6" /><polyline points="84.50,5.90 94.10,15.50 103.70,5.90" fill="none" stroke="#111" stroke-width="2.6" /><polyline points="84.50,32.90 94.10,23.30 103.70,32.90" fill="none" stroke="#111" stroke-width="2.6" /></g>
</svg>
</div>
</body></html>
